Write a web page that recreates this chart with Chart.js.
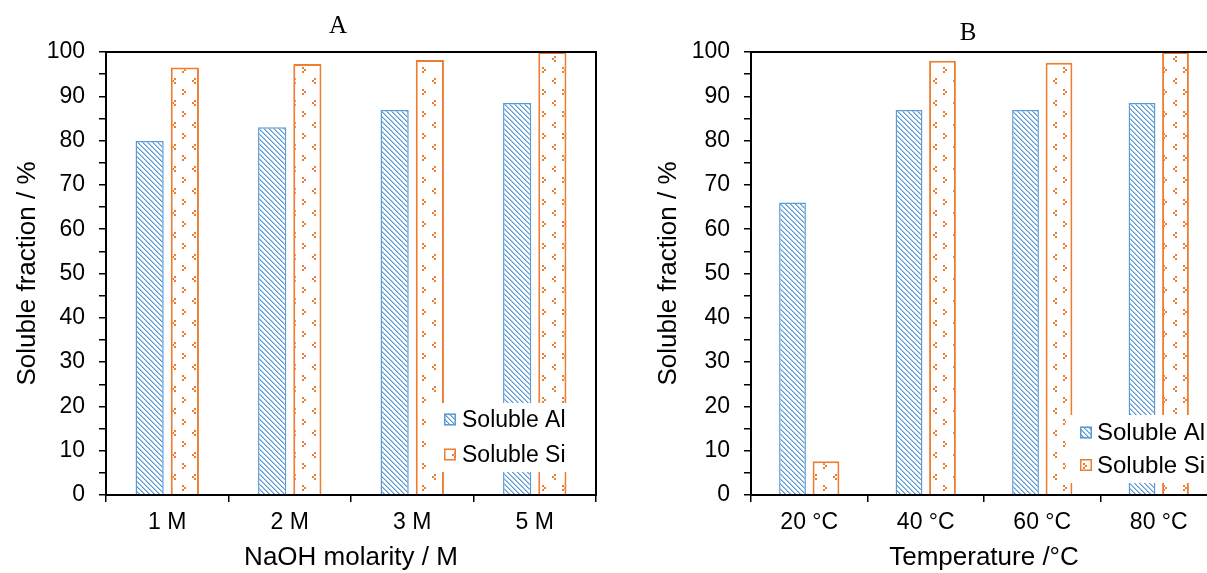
<!DOCTYPE html>
<html><head><meta charset="utf-8">
<script src="https://cdn.jsdelivr.net/npm/chart.js@4.4.1/dist/chart.umd.min.js"></script>
<style>
html,body{margin:0;padding:0;width:1207px;height:573px;overflow:hidden;background:#fff;}
canvas{position:absolute;top:0;}
#cA{left:0}
#cB{left:641px}
</style></head><body>
<canvas id="cA" width="676" height="573"></canvas>
<canvas id="cB" width="654" height="573"></canvas>
<script>
// ---- data ----
const seriesNames = ['Soluble Al', 'Soluble Si'];
const molarityLabels = ['1 M', '2 M', '3 M', '5 M'];
const molarityAl = [79.9, 83.0, 86.9, 88.5];
const molaritySi = [96.5, 97.3, 98.2, 100];
const temperatureLabels = ['20 °C', '40 °C', '60 °C', '80 °C'];
const temperatureAl = [66.0, 86.9, 86.9, 88.5];
const temperatureSi = [7.6, 98.0, 97.6, 100];
const yTitle = 'Soluble fraction / %';
const xTitleA = 'NaOH molarity / M';
const xTitleB = 'Temperature /°C';

const SANS = "'Liberation Sans', Arial, sans-serif";
const SERIF = "'Liberation Serif', 'Times New Roman', serif";
const BLUE = '#5B9BD5';
const ORANGE = '#ED7D31';

function alPattern(ctx){
  const n = 5;
  const c = document.createElement('canvas'); c.width = n; c.height = n;
  const g = c.getContext('2d');
  g.fillStyle = '#fff'; g.fillRect(0,0,n,n);
  for (let y = 0; y < n; y++) {
    g.fillStyle = BLUE; g.fillRect(y, y, 1, 1);
    g.fillStyle = 'rgba(91,155,213,0.6)'; g.fillRect((y+1)%n, y, 1, 1);
  }
  return ctx.createPattern(c, 'repeat');
}
function siPattern(ctx){
  const w = 20, h = 22;
  const c = document.createElement('canvas'); c.width = w; c.height = h;
  const g = c.getContext('2d');
  g.fillStyle = '#fff'; g.fillRect(0,0,w,h);
  g.fillStyle = ORANGE;
  const dot = (x,y)=>g.fillRect(x,y,2,2);
  dot(2,1); dot(4,3); dot(2,5);
  dot(14,12); dot(12,14); dot(14,16);
  return ctx.createPattern(c, 'repeat');
}

const boxLegend = {
  id: 'boxLegend',
  afterDatasetsDraw(chart, args, o) {
    const ctx = chart.ctx, a = chart.chartArea;
    ctx.save();
    ctx.fillStyle = '#fff';
    ctx.fillRect(a.right + o.left, a.bottom + o.top, -o.left, o.bottom - o.top);
    chart.data.datasets.forEach((ds, i) => {
      const cy = a.bottom + o.rows[i];
      const mx = a.right + o.markerX, s = o.marker;
      ctx.fillStyle = ds.backgroundColor;
      ctx.fillRect(mx, cy - s/2, s, s);
      ctx.strokeStyle = ds.borderColor; ctx.lineWidth = 1.5;
      ctx.strokeRect(mx + 0.75, cy - s/2 + 0.75, s - 1.5, s - 1.5);
      ctx.fillStyle = '#000';
      ctx.font = o.fontSize + 'px ' + SANS;
      ctx.textBaseline = 'middle'; ctx.textAlign = 'left';
      ctx.fillText(ds.label, a.right + o.textX, cy + 1);
    });
    ctx.restore();
  },
  afterDraw(chart, args, o) {
    const ctx = chart.ctx, a = chart.chartArea;
    ctx.save();
    ctx.strokeStyle = '#000'; ctx.lineWidth = 2;
    ctx.strokeRect(a.left, a.top, a.right - a.left, a.bottom - a.top);
    ctx.fillStyle = '#000';
    ctx.font = '25px ' + SERIF;
    ctx.textAlign = 'center'; ctx.textBaseline = 'middle';
    ctx.fillText(o.title, chart.width / 2, o.titleY);
    ctx.restore();
  }
};

function build(id, title, labels, al, si, xTitle, yWidth, padRight, legendOpts){
  const canvas = document.getElementById(id);
  const ctx = canvas.getContext('2d');
  legendOpts.title = title;
  return new Chart(ctx, {
    type: 'bar',
    data: {
      labels: labels,
      datasets: [
        { label: seriesNames[0], data: al, backgroundColor: alPattern(ctx), borderColor: BLUE, borderWidth: 1.5,
          categoryPercentage: 0.575, barPercentage: 0.8 },
        { label: seriesNames[1], data: si, backgroundColor: siPattern(ctx), borderColor: ORANGE, borderWidth: 2,
          categoryPercentage: 0.575, barPercentage: 0.8 }
      ]
    },
    options: {
      responsive: false, animation: false,
      layout: { padding: { left: 0, right: padRight, top: 52, bottom: 0 } },
      plugins: {
        legend: { display: false },
        tooltip: { enabled: false },
        title: { display: false },
        boxLegend: legendOpts
      },
      scales: {
        x: {
          offset: true,
          grid: { offset: true, drawOnChartArea: false, drawTicks: true, tickLength: 7, color: '#000', lineWidth: 1.5 },
          border: { display: true, color: '#000', width: 2 },
          ticks: { color: '#000', font: { family: SANS, size: 23 }, padding: 7, maxRotation: 0, autoSkip: false },
          title: { display: true, text: xTitle, color: '#000', font: { family: SANS, size: 26 }, padding: { top: 0, bottom: 0 } },
          afterFit(s) { s.height = 78; }
        },
        y: {
          min: 0, max: 100,
          ticks: { stepSize: 5, autoSkip: false, color: '#000', font: { family: SANS, size: 23 }, padding: 14,
            callback: v => (v % 10 === 0 ? String(v) : '') },
          grid: { drawOnChartArea: false, drawTicks: true, tickLength: 7, color: '#000', lineWidth: 1.5 },
          border: { display: true, color: '#000', width: 2 },
          title: { display: true, text: yTitle, color: '#000', font: { family: SANS, size: 26 }, padding: { top: 12, bottom: 0 } },
          afterFit(s) { s.width = yWidth; }
        }
      }
    },
    plugins: [boxLegend]
  });
}

build('cA', 'A', molarityLabels, molarityAl, molaritySi, xTitleA, 106, 80,
  { titleY: 26, fontSize: 23, left: -168, top: -92, bottom: -23, markerX: -152, textX: -134, rows: [-75.5, -40.5], marker: 12 });
build('cB', 'B', temperatureLabels, temperatureAl, temperatureSi, xTitleB, 110, 78,
  { titleY: 33, fontSize: 24, left: -151, top: -80, bottom: -12, markerX: -137, textX: -120, rows: [-62.5, -30], marker: 12 });
</script>
</body></html>
